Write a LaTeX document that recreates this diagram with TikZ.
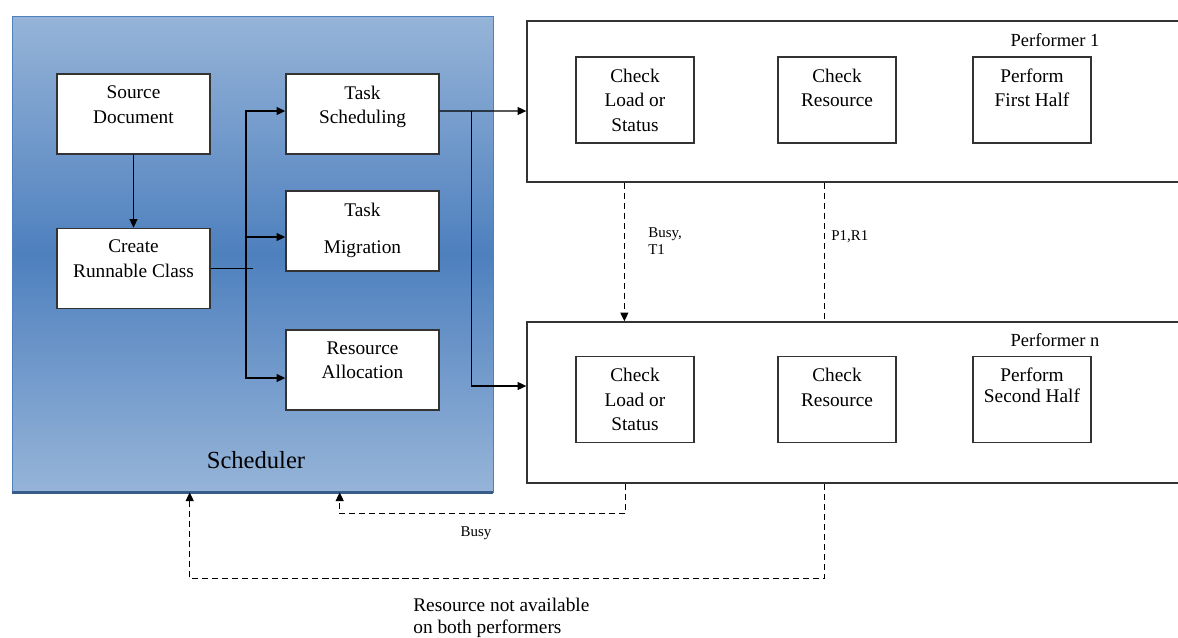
\documentclass[tikz,border=0pt]{standalone}
\usepackage{fontspec}
\setmainfont{Liberation Serif}
\usepackage{xcolor}
\usetikzlibrary{arrows.meta,positioning,calc}
\definecolor{schedlight}{RGB}{150,180,216}
\definecolor{scheddark}{RGB}{78,128,190}
\definecolor{schedline}{RGB}{56,93,138}

\begin{document}
\begin{tikzpicture}[x=0.02cm, y=-0.02cm,
        schedbox/.style={rectangle, draw=scheddark, top color=schedlight, bottom color=schedlight, middle color=scheddark, minimum width=9.62cm, minimum height=9.52cm, inner sep=0pt},
        taskbox/.style={rectangle, draw=black!80, fill=white, thick, minimum width=3.06cm, minimum height=1.6cm, inner sep=0pt},
        perfbox/.style={rectangle, draw=black!80, fill=white, thick, minimum width=13.26cm, minimum height=3.22cm, inner sep=0pt},
        stepbox/.style={rectangle, draw=black!80, fill=white, thick, minimum width=2.36cm, minimum height=1.72cm, inner sep=0pt},
        boxtext/.style={anchor=north, align=center, font=\fontsize{11}{14}\selectfont, inner sep=0pt, yshift=-0.24cm},
        note/.style={align=left, font=\fontsize{8.5}{9.6}\selectfont, inner sep=0pt},
        arrow/.style={-{Triangle[length=5pt,width=4.5pt]}, thick},
        dashline/.style={line width=0.9pt, dash pattern=on 3.5pt off 2.2pt},
        dasharrow/.style={-{Triangle[length=5pt,width=4.5pt]}, dashline}
    ]
        \useasboundingbox (0,0) rectangle (1178,637);
        \clip (0,0) rectangle (1178,637);

        % Scheduler
        \node[schedbox] (sched) at (252.5,254) {};
        \draw[schedline, line width=1.5pt] (sched.south west) -- (sched.south east);
        \node[font=\fontsize{14}{16}\selectfont] (schedlbl) at (256,460) {Scheduler};

        \node[taskbox] (src) at (133.5,114) {};
        \node[boxtext] at (src.north) {Source\\Document};
        \node[taskbox] (crc) at (133.5,268.5) {};
        \node[boxtext] at (crc.north) {Create\\Runnable Class};
        \node[taskbox] (tsch) at (362.5,114) {};
        \node[boxtext] at (tsch.north) {Task\\Scheduling};
        \node[taskbox] (tmig) at (362.5,231) {};
        \node[boxtext] at (tmig.north) {Task\\[7.5pt]Migration};
        \node[taskbox] (ralloc) at (362.5,370) {};
        \node[boxtext] at (ralloc.north) {Resource\\Allocation};

        % Performer 1
        \node[perfbox] (perf1) at (858.5,101.5) {};
        \node[font=\fontsize{10.5}{12}\selectfont] at (1055,40) {Performer 1};
        \node[stepbox] (cl1) at (635,100) {};
        \node[boxtext] at (cl1.north) {Check\\Load or\\Status};
        \node[stepbox] (cr1) at (837,100) {};
        \node[boxtext] at (cr1.north) {Check\\Resource};
        \node[stepbox] (pf1) at (1032,100) {};
        \node[boxtext] at (pf1.north) {Perform\\First Half};

        % Performer n
        \node[perfbox] (perfn) at (858.5,402.5) {};
        \node[font=\fontsize{10.5}{12}\selectfont] at (1055,340) {Performer n};
        \node[stepbox] (cln) at (635,399.5) {};
        \node[boxtext] at (cln.north) {Check\\Load or\\Status};
        \node[stepbox] (crn) at (837,399.5) {};
        \node[boxtext] at (crn.north) {Check\\Resource};
        \node[stepbox] (pfn) at (1032,399.5) {};
        \node[boxtext] at (pfn.north) {Perform\\[-2pt]Second Half};

        % Arrows
        \coordinate (bus) at (246,264);
        \draw[arrow] (src) -- (crc);
        \draw[thick] (crc.east) -- ++(42,0);
        \draw[arrow] (bus) |- ($(tsch.west)+(0,-3)$);
        \draw[arrow] (bus) |- ($(tmig.west)+(0,6)$);
        \draw[arrow] (bus) |- ($(ralloc.west)+(0,8)$);
        \draw[arrow] ($(tsch.east)+(0,-3)$) -- ($(perf1.west)+(0,9.5)$);
        \draw[arrow] ($(tsch.east)+(32,-3)$) |- ($(perfn.west)+(0,-16.5)$);

        % Feedback
        \draw[dasharrow] ($(perf1.south west)+(98,0)$) -- ($(perfn.north west)+(98,0)$);
        \draw[dashline] ($(perf1.south west)+(298,0)$) -- ($(perfn.north west)+(298,0)$);
        \draw[dasharrow] ($(perfn.south west)+(99,0)$) -- ++(0,30) -| ($(sched.south west)+(328,0)$);
        \draw[dasharrow] ($(perfn.south west)+(298,0)$) -- ++(0,95) -| ($(sched.south west)+(178,0)$);

        \node[note, anchor=west] (busyt) at (648,241) {Busy,\\T1};
        \node[note, anchor=west] (pr) at (831,237) {P1,R1};
        \node[note] (busy) at (476,533) {Busy};
        \node[note, anchor=west, font=\fontsize{11}{12.5}\selectfont] (nores) at (413,618) {Resource not available\\on both performers};
    \end{tikzpicture}
\end{document}
